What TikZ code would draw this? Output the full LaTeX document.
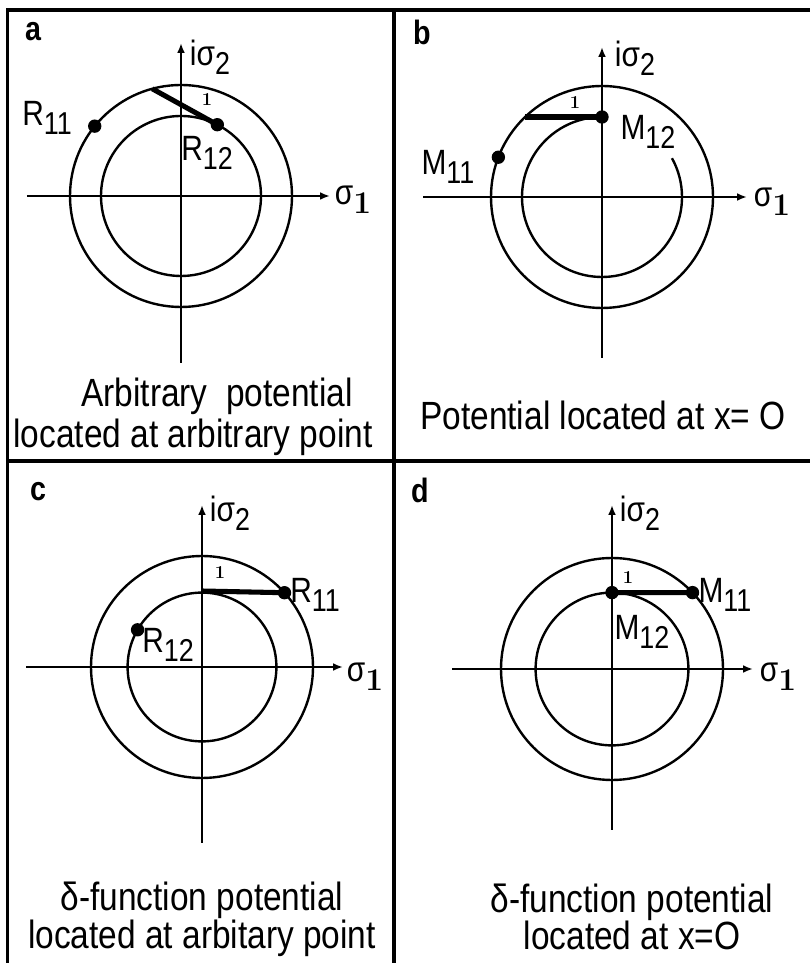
\documentclass[tikz,border=0pt]{standalone}
\usepackage{graphicx}
\usepackage{fontspec}
\setsansfont[FakeStretch=0.85]{Liberation Sans}
\usetikzlibrary{arrows.meta}
\newcommand{\lowsub}[1]{\raisebox{-0.5ex}{\scalebox{0.9}{#1}}}
\newcommand{\serifone}{{\rmfamily\bfseries 1}}

\begin{document}
\begin{tikzpicture}[
    axis/.style={line width=1.8pt, -{Latex[length=7pt,width=5.5pt]}},
    ring/.style={line width=1.7pt},
    link/.style={line width=3.6pt},
    dot/.style={circle, fill, inner sep=0pt, minimum size=9.5pt},
    lbl/.style={font=\sffamily\fontsize{25}{25}\selectfont, inner sep=0pt},
    caption/.style={font=\sffamily\fontsize{28}{26.8}\selectfont,
                    align=center, inner sep=0pt},
    tag/.style={font=\sffamily\bfseries\fontsize{24}{24}\selectfont, inner sep=0pt},
    unit/.style={font=\rmfamily\bfseries\fontsize{13}{13}\selectfont, inner sep=0pt}]
  \useasboundingbox (0,0) rectangle (20.25,24.075);
  % frame and dividers
  \draw[line width=2.2pt] (0.19,0) -- (0.19,23.825) -- (20.25,23.825);
  \draw[line width=2.2pt] (0.19,12.55) -- (20.25,12.55);
  \draw[line width=2.2pt] (9.85,0) -- (9.85,23.825);

  % (a) arbitrary potential, arbitrary point
  \begin{scope}[shift={(4.525,19.175)}]
    \node[tag] (a-tag) at (-3.7,4.1) {a};
    \draw[axis] (0,-4.175) -- (0,3.825);
    \draw[axis] (-3.85,0) -- (3.725,0);
    \draw[ring] (0,0) circle (2.775);
    \draw[ring] (0,0) circle (2.0);
    \coordinate (a-top) at (105:2.775);
    \node[dot] (a-R11) at (141:2.775) {};
    \node[dot] (a-R12) at (63:2.0) {};
    \draw[link] (a-top) -- (a-R12.center);
    \node[unit] (a-one) at (0.65,2.4) {1};
    \node[lbl] (a-r11) at (-3.35,1.95) {R\lowsub{11}};
    \node[lbl] (a-r12) at (0.65,1.075) {R\lowsub{12}};
    \node[lbl] (a-y) at (0.725,3.475) {iσ\lowsub{2}};
    \node[lbl] (a-x) at (4.3,-0.1) {σ\lowsub{\serifone}};
    \node[caption] (a-cap1) at (0.9,-5.0) {Arbitrary\ \ potential};
    \node[caption] (a-cap2) at (0.3,-6.025) {located at arbitrary point};
  \end{scope}

  % (b) potential at x=0
  \begin{scope}[shift={(15.05,19.15)}]
    \node[tag] (b-tag) at (-4.5,4.125) {b};
    \draw[axis] (0,-4.025) -- (0,3.75);
    \draw[axis] (-4.475,0) -- (3.625,0);
    \draw[ring] (0,0) circle (2.775);
    \draw[ring] (90:2.0) arc[start angle=90, end angle=389, radius=2.0];
    \coordinate (b-left) at (-1.925,2.0);
    \node[dot] (b-M12) at (90:2.0) {};
    \node[dot] (b-M11) at (159:2.775) {};
    \draw[link] (b-left) -- (b-M12.center);
    \node[unit] (b-one) at (-0.675,2.35) {1};
    \node[lbl] (b-m11) at (-3.85,0.75) {M\lowsub{11}};
    \node[lbl] (b-m12) at (1.15,1.625) {M\lowsub{12}};
    \node[lbl] (b-y) at (0.825,3.475) {iσ\lowsub{2}};
    \node[lbl] (b-x) at (4.25,-0.125) {σ\lowsub{\serifone}};
    \node[caption] (b-cap) at (0.025,-5.45) {Potential located at x= O};
  \end{scope}

  % (c) delta-function potential, arbitrary point
  \begin{scope}[shift={(5.05,7.4)}]
    \node[tag] (c-tag) at (-4.1,4.375) {c};
    \draw[axis] (0,-4.4) -- (0,4.05);
    \draw[axis] (-4.4,0) -- (3.525,0);
    \draw[ring] (0,0) circle (2.775);
    \draw[ring] (0,0) circle (1.86);
    \coordinate (c-foot) at (90:1.9);
    \node[dot] (c-R11) at (42:2.775) {};
    \node[dot] (c-R12) at (150:1.86) {};
    \draw[link] (c-foot) -- (c-R11.center);
    \node[unit] (c-one) at (0.45,2.35) {1};
    \node[lbl] (c-r11) at (2.825,1.8) {R\lowsub{11}};
    \node[lbl] (c-r12) at (-0.85,0.55) {R\lowsub{12}};
    \node[lbl] (c-y) at (0.7,3.85) {iσ\lowsub{2}};
    \node[lbl] (c-x) at (4.075,-0.25) {σ\lowsub{\serifone}};
    \node[caption] (c-cap) at (0,-6.3)
      {δ-function potential\\located at arbitary point};
  \end{scope}

  % (d) delta-function potential at x=0
  \begin{scope}[shift={(15.3,7.35)}]
    \node[tag] (d-tag) at (-4.8,4.475) {d};
    \draw[axis] (0,-4.025) -- (0,4.1);
    \draw[axis] (-4.0,0) -- (3.525,0);
    \draw[ring] (0,0) circle (2.775);
    \draw[ring] (0,0) circle (1.91);
    \node[dot] (d-M12) at (90:1.91) {};
    \node[dot] (d-M11) at (43.5:2.775) {};
    \draw[link] (d-M12.center) -- (d-M11.center);
    \node[unit] (d-one) at (0.4,2.275) {1};
    \node[lbl] (d-m11) at (2.825,1.85) {M\lowsub{11}};
    \node[lbl] (d-m12) at (0.75,0.925) {M\lowsub{12}};
    \node[lbl] (d-y) at (0.7,3.9) {iσ\lowsub{2}};
    \node[lbl] (d-x) at (4.15,-0.2) {σ\lowsub{\serifone}};
    \node[caption] (d-cap) at (0.5,-6.2)
      {δ-function potential\\located at x=O};
  \end{scope}
\end{tikzpicture}
\end{document}
